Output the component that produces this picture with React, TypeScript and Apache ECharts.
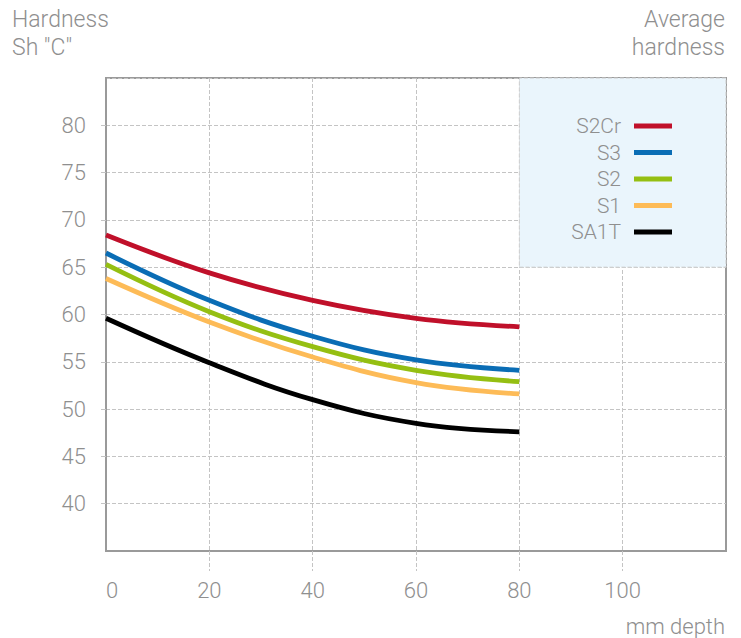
import React, { useEffect, useRef } from "react";
import * as echarts from "echarts";

const depth = [0, 20, 40, 60, 80];
const seriesNames = ["S2Cr", "S3", "S2", "S1", "SA1T"];
const s2cr = [68.4, 64.4, 61.5, 59.6, 58.7];
const s3 = [66.5, 61.5, 57.7, 55.2, 54.1];
const s2 = [65.3, 60.3, 56.6, 54.1, 52.9];
const s1 = [63.8, 59.2, 55.5, 52.8, 51.6];
const sa1t = [59.6, 54.9, 51.0, 48.5, 47.6];
const colors = ["#c0102a", "#0a6db5", "#95bf12", "#fdbb57", "#000000"];
const xLabels = [0, 20, 40, 60, 80, 100];
const xTicks = [20, 40, 60, 80, 100];

const FONT = "Roboto, 'Liberation Sans', sans-serif";
const GRAY = "#8f8f8f";

export default function App() {
  const ref = useRef<HTMLDivElement>(null);
  useEffect(() => {
    document.body.style.margin = "0";
    if (!ref.current) return;
    const chart = echarts.init(ref.current, null, { renderer: "svg" });
    const values = [s2cr, s3, s2, s1, sa1t];
    const series: any[] = seriesNames.map((name, i) => ({
      name,
      type: "line",
      smooth: 0.4,
      symbol: "none",
      data: depth.map((d, j) => [d, values[i][j]]),
      lineStyle: { color: colors[i], width: 4.8 },
      itemStyle: { color: colors[i] },
      z: 3,
    }));
    series[0].markArea = {
      silent: true,
      itemStyle: {
        color: "#eaf5fc",
        borderColor: "#cccccc",
        borderWidth: 1,
        borderType: "dashed",
      },
      data: [[{ xAxis: 80, yAxis: 65 }, { xAxis: 120, yAxis: 85 }]],
    };
    chart.setOption({
      animation: false,
      grid: {
        left: 106,
        right: 15,
        top: 78,
        bottom: 87,
        show: true,
        borderColor: "#9a9a9a",
        borderWidth: 2,
        containLabel: false,
      },
      xAxis: {
        type: "value",
        min: 0,
        max: 120,
        interval: 20,
        axisLine: { show: true, lineStyle: { color: "#9a9a9a", width: 2 } },
        axisTick: {
          show: true,
          length: 20,
          customValues: xTicks,
          lineStyle: { color: "#c4c4c4", type: "dashed", width: 1 },
        },
        axisLabel: {
          customValues: xLabels,
          margin: 28,
          fontSize: 22,
          fontFamily: FONT,
          fontWeight: 300,
          color: GRAY,
          alignMinLabel: "left",
        },
        splitLine: { show: true, lineStyle: { color: "#c4c4c4", type: "dashed", width: 1 } },
      },
      yAxis: {
        type: "value",
        min: 35,
        max: 85,
        interval: 5,
        axisLine: { show: true, lineStyle: { color: "#9a9a9a", width: 2 } },
        axisTick: { show: true, length: 5, lineStyle: { color: "#c4c4c4", width: 1 } },
        axisLabel: {
          margin: 20,
          fontSize: 22,
          fontFamily: FONT,
          fontWeight: 300,
          color: GRAY,
          showMinLabel: false,
          showMaxLabel: false,
        },
        splitLine: { show: true, lineStyle: { color: "#c4c4c4", type: "dashed", width: 1 } },
      },
      legend: {
        orient: "vertical",
        right: 64,
        top: 107,
        align: "right",
        icon: "rect",
        itemWidth: 38,
        itemHeight: 5,
        itemGap: -1.5,
        selectedMode: false,
        data: seriesNames,
        textStyle: {
          fontSize: 21,
          fontFamily: FONT,
          fontWeight: 300,
          color: GRAY,
          lineHeight: 14,
          padding: [0, 8, 14, 0],
        },
      },
      graphic: [
        {
          type: "text",
          x: 12,
          y: 5,
          style: {
            text: 'Hardness\nSh "C"',
            fontSize: 23,
            fontFamily: FONT,
            fontWeight: 300,
            fill: GRAY,
            lineHeight: 28,
            align: "left",
            verticalAlign: "top",
          },
        },
        {
          type: "text",
          x: 725,
          y: 5,
          style: {
            text: "Average\nhardness",
            fontSize: 23,
            fontFamily: FONT,
            fontWeight: 300,
            fill: GRAY,
            lineHeight: 28,
            align: "right",
            verticalAlign: "top",
          },
        },
        {
          type: "text",
          x: 725,
          y: 626,
          style: {
            text: "mm depth",
            fontSize: 22,
            fontFamily: FONT,
            fontWeight: 300,
            fill: GRAY,
            align: "right",
            verticalAlign: "middle",
          },
        },
      ],
      series,
    });
    return () => chart.dispose();
  }, []);
  return <div ref={ref} style={{ width: 741, height: 638 }} />;
}
